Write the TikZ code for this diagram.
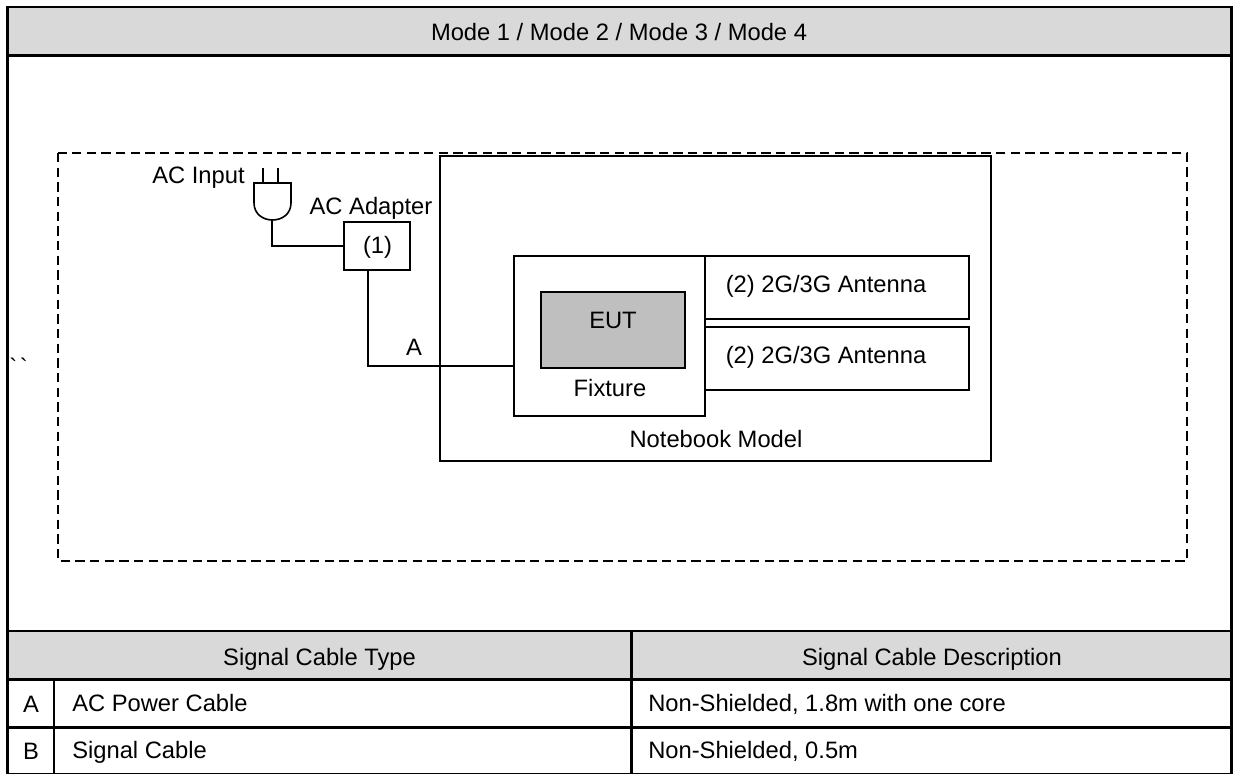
\documentclass[tikz,border=0pt]{standalone}
\usepackage{fontspec}
\setmainfont{Liberation Sans}
\newfontfamily\rawfont{Liberation Sans}
\definecolor{hdr}{HTML}{D9D9D9}
\definecolor{eut}{HTML}{BFBFBF}
\tikzset{
 x=0.75pt,y=-0.75pt,
 frame/.style={line width=2.2pt,draw=black},
 box/.style={line width=1.2pt,draw=black},
 wire/.style={line width=1.2pt,draw=black},
 txt/.style={inner sep=0pt,anchor=base,font=\fontsize{17.8pt}{20pt}\selectfont,text=black},
 txtl/.style={txt,anchor=base west},
}
\begin{document}
\begin{tikzpicture}
\useasboundingbox (0,0) rectangle (1235,775);
\fill[white] (0,0) rectangle (1235,775);
\fill[hdr] (7,7) rectangle (1231,55);
\fill[hdr] (7,631) rectangle (1231,679);
\draw[frame] (7.3,774) -- (7.3,7) -- (1231.5,7) -- (1231.5,774);
\draw[box] (6,773.5) -- (1233,773.5);
\draw[frame] (7,55.5) -- (1231,55.5);
\draw[frame] (7,631) -- (1231,631);
\draw[frame] (7,679.5) -- (1231,679.5);
\draw[frame] (7,727.5) -- (1231,727.5);
\draw[frame] (631.5,631) -- (631.5,773);
\draw[frame] (54,679) -- (54,773);
\node[txt] (title) at (619,40.5) {Mode 1 / Mode 2 / Mode 3 / Mode 4};
\node[txt] (h1) at (319.5,665) {Signal Cable Type};
\node[txt] (h2) at (932,665) {Signal Cable Description};
\node[txt] (ra) at (31,712.5) {A};
\node[txtl] (ra1) at (72,711) {AC Power Cable};
\node[txtl] (ra2) at (648,711) {Non-Shielded, 1.8m with one core};
\node[txt] (rb) at (31,759) {B};
\node[txtl] (rb1) at (72,758) {Signal Cable};
\node[txtl] (rb2) at (648,758) {Non-Shielded, 0.5m};
\draw[box,dash pattern=on 7pt off 4pt] (58,153) rectangle (1187,561);
\draw[box,fill=white] (440,156) rectangle (991,461);
\draw[box] (514,256) rectangle (705,416);
\draw[box,fill=eut] (541,292) rectangle (685,368);
\draw[box] (705,256) rectangle (969,319);
\draw[box] (705,327) rectangle (969,390);
\draw[box] (344,222) rectangle (410,270);
\node[txt] at (613,328) {EUT};
\node[txt] at (610,396) {Fixture};
\node[txt] at (716,447) {Notebook Model};
\node[txtl] at (725.5,292) {(2) 2G/3G Antenna};
\node[txtl] at (725.5,363) {(2) 2G/3G Antenna};
\node[txt] at (377.5,253) {(1)};
\node[txt] at (198.5,183) {AC Input};
\node[txt] at (371,214) {AC Adapter};
\node[txt] at (414,355) {A};
\node[txt] at (18.5,375) {\rawfont\fontsize{17.8pt}{20pt}\selectfont\char"60\hspace{2pt}\char"60};
\draw[wire] (368,270) -- (368,366) -- (514,366);
\draw[wire] (272,220) -- (272,246) -- (344,246);
\draw[wire] (254,183) -- (254,203) .. controls (254,214) and (263,220) .. (272.5,220) .. controls (282,220) and (291,214) .. (291,203) -- (291,183) -- cycle;
\draw[wire] (263,168) -- (263,183);
\draw[wire] (278,168) -- (278,183);
\end{tikzpicture}
\end{document}
